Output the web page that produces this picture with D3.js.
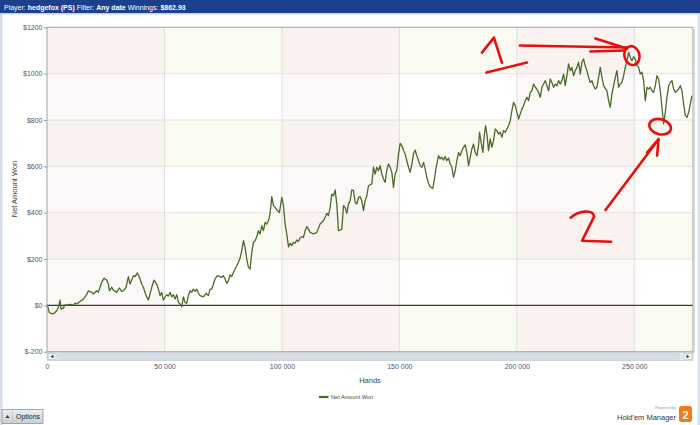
<!DOCTYPE html>
<html><head><meta charset="utf-8">
<script src="https://cdn.jsdelivr.net/npm/d3@7"></script>
<style>body{margin:0;background:#fff;} svg{display:block;font-family:"Liberation Sans",Arial,sans-serif;}</style>
</head><body><svg id="c" width="700" height="425"></svg>
<script>
// ---- data ----
const hands = [0,994,1988,2981,4117,4827,5537,5963,6957,7666,
8376,9796,11216,11925,12635,14055,15474,16894,17604,19024,
19734,21153,21863,22573,23283,24277,25413,26122,26548,27542,
28252,29672,30807,31801,32511,33647,34641,35351,36060,36770,
37480,38474,39326,40319,41029,42165,43159,43869,44578,45572,
46708,47418,48128,48837,49547,50257,50967,51677,52387,53097,
53807,54516,55226,55936,56646,57356,58066,58776,59485,60195,
60905,61615,62325,63035,63745,64454,65164,66584,67720,68713,
69423,70133,70843,71553,72547,73683,74392,75102,75812,76522,
77232,77942,78651,79361,80071,80781,81491,82201,82910,83620,
84330,85040,85750,86460,87170,87879,88589,89299,90009,90719,
91429,92138,92848,93558,94268,94978,95688,96398,97107,98101,
98953,99947,100657,101366,102076,102786,103496,104206,104916,105626,
106335,107045,107755,108465,109175,109885,110594,111304,112014,113434,
114853,116273,117693,118403,119113,119822,120532,121242,121952,122662,
123372,124081,124791,125501,126211,126921,127631,128340,129050,129760,
130470,131180,131890,132600,133309,134019,134729,135439,136149,136859,
138276,138986,139696,140406,141115,141825,142535,143245,143955,144665,
145374,146084,146794,147504,148214,148924,149634,150343,151053,151763,
152473,153183,153893,154603,155312,156022,156732,157442,158152,158862,
159571,160281,160991,161701,162411,163121,164256,164824,165676,166670,
167380,168090,168800,169510,170219,170929,171639,172349,173059,173769,
174478,175188,175898,176608,177318,178028,178737,179447,180157,180867,
181577,182287,182997,183706,184132,184700,185552,186120,186688,187256,
187966,188675,189385,190095,190805,191515,192225,192934,193644,194354,
195064,195774,196484,197194,197903,198613,199323,200033,200743,201453,
202162,202872,203582,204292,205002,205712,206422,207131,207841,208551,
209261,209971,210681,211391,212100,212810,213520,214230,214940,215650,
216359,217069,217779,218489,219199,219909,220619,221328,222038,222748,
223458,224168,224878,225588,226297,227007,227717,228427,229137,229847,
230556,231266,231976,232686,233396,234106,234815,235525,236235,236945,
238365,239075,239784,240494,241204,241914,242624,243334,244043,244753,
245463,246173,246883,247593,248303,249012,249722,250432,251142,251852,
252562,253271,253981,254691,255401,256111,256821,257530,258240,258950,
259660,260370,261080,261789,262499,263209,263919,264629,265339,266048,
266758,267468,268178,268888,269598,270307,271017,271727,272437,273147,
273857,274567];
const netWon = [5,-30,-37,-35,-23,-9,23,-16,-12,3,
1,4,1,9,6,17,27,46,63,56,
49,63,56,78,99,117,109,92,63,78,
66,56,75,60,63,78,124,92,109,128,
124,140,121,92,78,42,23,49,78,109,
92,70,42,56,23,35,46,40,56,37,
46,27,46,13,6,-6,37,13,9,42,
63,56,70,60,70,52,42,37,52,42,
70,70,92,114,128,124,121,128,114,95,
106,132,124,142,157,171,186,204,236,279,
250,200,164,157,229,272,279,296,322,308,
344,322,358,351,365,397,469,430,423,409,
401,466,430,351,308,253,268,258,272,268,
282,276,291,296,293,322,340,329,315,308,
315,351,365,380,397,387,423,480,473,498,
437,322,325,329,430,423,397,437,452,498,
495,445,437,466,469,452,409,452,473,516,
524,596,567,596,581,603,567,545,531,584,
610,596,574,509,567,584,653,699,689,668,
653,624,596,574,610,653,670,646,624,603,
596,617,588,552,527,512,505,538,596,646,
632,639,627,642,624,636,610,596,552,581,
624,660,646,668,682,693,660,603,639,675,
696,660,646,689,747,711,660,732,775,739,
668,718,682,711,761,754,739,747,725,754,
747,761,775,797,840,876,862,833,804,826,
847,862,883,898,883,919,926,955,941,934,
919,898,941,955,970,948,926,977,962,941,
955,948,970,955,970,998,948,991,1042,1013,
1027,991,1013,1027,1049,998,1049,1063,1034,1013,
984,962,970,948,934,941,984,1027,984,948,
926,883,855,912,948,984,1013,941,955,962,
991,1027,1056,1092,1070,1056,1073,1063,1034,1027,
998,1006,970,883,941,934,941,926,919,948,
991,977,926,855,783,833,898,948,962,970,
934,919,926,934,948,926,869,819,811,833,
869,905];
const yTicks = [-200,0,200,400,600,800,1000,1200];
const xTicks = [0,50000,100000,150000,200000,250000];
const xMax = 275000;
const seriesName = "Net Amount Won";
const headerParts = [["Player: ",false],["hedgefox (PS)",true],[" Filter: ",false],["Any date",true],[" Winnings: ",false],["$862.93",true]];
// annotation anchors (hands, $)
const mark1 = [249000, 1078];
const mark2 = [261000, 771];

// ---- drawing ----
const svg = d3.select("#c");
const L = 47, R = 693, T = 27.3, B = 351.7;
const x = d3.scaleLinear().domain([0, xMax]).range([L, R]);
const y = d3.scaleLinear().domain([-200, 1200]).range([B, T]);

// frame
svg.append("rect").attr("x",0).attr("y",0).attr("width",700).attr("height",425).attr("fill","#fff");
svg.append("rect").attr("x",0).attr("y",13).attr("width",2.5).attr("height",412).attr("fill","#d5dde8");
svg.append("rect").attr("x",697.5).attr("y",13).attr("width",2.5).attr("height",412).attr("fill","#dde3ea");
// header
svg.append("rect").attr("x",0).attr("y",0).attr("width",700).attr("height",13).attr("fill","#1d3f8e");
svg.append("rect").attr("x",0).attr("y",13).attr("width",700).attr("height",1.5).attr("fill","#c9d3e0");
const ht = svg.append("text").attr("x",4).attr("y",9.5).attr("fill","#fff").attr("font-size",7);
headerParts.forEach(([t,b]) => ht.append("tspan").attr("font-weight", b ? "bold" : "normal").text(t));

// background bands
const colEdges = xTicks.concat([xMax]);
const rowEdges = yTicks;
const g = svg.append("g");
for (let i = 0; i < colEdges.length - 1; i++) {
  for (let j = 0; j < rowEdges.length - 1; j++) {
    const top = rowEdges.length - 2 - j;
    const pink = i % 2 === 0;
    const light = top % 2 === 1;
    const fill = pink ? (light ? "#fcf8f7" : "#f9f2ef") : (light ? "#ffffff" : "#fafaf2");
    g.append("rect").attr("x", x(colEdges[i])).attr("y", y(rowEdges[j+1]))
      .attr("width", x(colEdges[i+1]) - x(colEdges[i])).attr("height", y(rowEdges[j]) - y(rowEdges[j+1]))
      .attr("fill", fill);
  }
}
// gridlines
g.selectAll(".hg").data(yTicks.filter(d => d !== 0 && d > -200 && d < 1200)).join("line")
  .attr("x1", L).attr("x2", R).attr("y1", d => y(d)).attr("y2", d => y(d))
  .attr("stroke", "#e7e3df").attr("stroke-width", 1);
g.selectAll(".vg").data(xTicks.filter(d => d > 0)).join("line")
  .attr("x1", d => x(d)).attr("x2", d => x(d)).attr("y1", T).attr("y2", B)
  .attr("stroke", "#e2dedb").attr("stroke-width", 1);
// zero line
g.append("line").attr("x1", L).attr("x2", R).attr("y1", y(0)).attr("y2", y(0)).attr("stroke", "#3a3a3a").attr("stroke-width", 1.3);

// series line
svg.append("clipPath").attr("id","pc").append("rect").attr("x",L).attr("y",T).attr("width",R-L).attr("height",B-T);
const idx = d3.range(Math.min(hands.length, netWon.length));
svg.append("path").attr("clip-path","url(#pc)")
  .attr("d", d3.line().x(i => x(hands[i])).y(i => y(netWon[i]))(idx))
  .attr("fill","none").attr("stroke","#4a6a28").attr("stroke-width",1.3).attr("stroke-linejoin","round");

// plot border
svg.append("rect").attr("x",L).attr("y",T).attr("width",R-L).attr("height",B-T)
  .attr("fill","none").attr("stroke","#a3a3a3").attr("stroke-width",1);
svg.append("line").attr("x1",R+1).attr("x2",R+1).attr("y1",T+1).attr("y2",B+1).attr("stroke","#cfcfcf").attr("stroke-width",1.5);

// y axis
const ya = svg.append("g").attr("transform",`translate(${L},0)`)
  .call(d3.axisLeft(y).tickValues(yTicks).tickSize(3).tickPadding(1.5).tickFormat(d => "$" + d));
ya.select(".domain").remove();
ya.selectAll("line").attr("stroke","#9a9a9a");
ya.selectAll("text").attr("font-size",7).attr("fill","#4d566a").attr("font-family","Liberation Sans, Arial, sans-serif");
svg.append("text").attr("transform","translate(17,189) rotate(-90)").attr("text-anchor","middle")
  .attr("font-size",7.5).attr("fill","#444").text(seriesName);

// scrollbar
const sb = svg.append("g");
sb.append("rect").attr("x",L).attr("y",352.5).attr("width",R-L).attr("height",8).attr("fill","#e6eaee").attr("stroke","#b4bdc7").attr("stroke-width",0.6);
sb.append("rect").attr("x",L+1).attr("y",353.5).attr("width",8).attr("height",6).attr("fill","#f4f6f8").attr("stroke","#aab3bd").attr("stroke-width",0.5);
sb.append("path").attr("d",`M${L+3.5},356.5 L${L+6.5},354.8 L${L+6.5},358.2 Z`).attr("fill","#333");
sb.append("rect").attr("x",L+11).attr("y",353.8).attr("width",R-L-24).attr("height",5.4).attr("rx",1).attr("fill","#d9dfe6").attr("stroke","#c2cad3").attr("stroke-width",0.5);
sb.append("rect").attr("x",R-9).attr("y",353.5).attr("width",8).attr("height",6).attr("fill","#f4f6f8").attr("stroke","#aab3bd").attr("stroke-width",0.5);
sb.append("path").attr("d",`M${R-3.5},356.5 L${R-6.5},354.8 L${R-6.5},358.2 Z`).attr("fill","#333");

// x axis
const loc = d3.formatLocale({decimal:".", thousands:" ", grouping:[3], currency:["$",""]});
const xa = svg.append("g").attr("transform",`translate(0,361)`)
  .call(d3.axisBottom(x).tickValues(xTicks).tickSize(0).tickPadding(3).tickFormat(loc.format(",")));
xa.select(".domain").remove();
xa.selectAll("text").attr("font-size",7).attr("fill","#4d566a").attr("font-family","Liberation Sans, Arial, sans-serif");
svg.append("text").attr("x",(L+R)/2).attr("y",382.5).attr("text-anchor","middle").attr("font-size",7.5).attr("fill","#444").text("Hands");

// legend
svg.append("line").attr("x1",319).attr("x2",328.5).attr("y1",397).attr("y2",397).attr("stroke","#4a6a28").attr("stroke-width",2.2);
svg.append("text").attr("x",331).attr("y",399).attr("font-size",5.6).attr("fill","#444").text(seriesName);

// options button
const gr = svg.append("defs").append("linearGradient").attr("id","bg").attr("x1",0).attr("x2",0).attr("y1",0).attr("y2",1);
gr.append("stop").attr("offset",0).attr("stop-color","#eef0f2");
gr.append("stop").attr("offset",1).attr("stop-color","#c9ced4");
svg.append("rect").attr("x",2).attr("y",409.5).attr("width",41).attr("height",14).attr("fill","url(#bg)").attr("stroke","#8e959c").attr("stroke-width",0.8);
svg.append("path").attr("d","M5.5,418 L7.5,415 L9.5,418 Z").attr("fill","#333");
svg.append("text").attr("x",16).attr("y",419).attr("font-size",7).attr("fill","#222").text("Options");
svg.append("line").attr("x1",12.5).attr("x2",12.5).attr("y1",411).attr("y2",422).attr("stroke","#b4b9bf").attr("stroke-width",0.6);

// powered by
svg.append("text").attr("x",676).attr("y",409).attr("text-anchor","end").attr("font-size",4).attr("fill","#999").text("Powered by");
svg.append("text").attr("x",676).attr("y",419.5).attr("text-anchor","end").attr("font-size",7.5).attr("fill","#333").text("Hold'em Manager");
svg.append("rect").attr("x",679).attr("y",406).attr("width",13).attr("height",16).attr("rx",2.5).attr("fill","#f07a1c");
svg.append("text").attr("x",685.5).attr("y",418.5).attr("text-anchor","middle").attr("font-size",11).attr("font-weight","bold").attr("fill","#fff").text("2");

// red hand-drawn annotations
const red = "#e5100e";
const a = svg.append("g").attr("fill","none").attr("stroke",red).attr("stroke-width",2.6).attr("stroke-linecap","round").attr("stroke-linejoin","round");
const [p1x,p1y] = [x(mark1[0]), y(mark1[1])];
const [p2x,p2y] = [x(mark2[0]), y(mark2[1])];
const off = (px,py,pts) => pts.map(([dx,dy]) => [px+dx, py+dy]);
const ln = d3.line();
a.append("path").attr("d", ln(off(p1x,p1y,[[-150,-3],[-138,-18],[-130,7]])));
a.append("path").attr("d", ln(off(p1x,p1y,[[-145.5,17],[-105,7]])));
a.append("path").attr("d", ln(off(p1x,p1y,[[-112,-10],[-5,-8]])));
a.append("path").attr("d", ln(off(p1x,p1y,[[-41.5,-4],[-8,-5]])));
a.append("path").attr("d", ln(off(p1x,p1y,[[-36.5,-17],[-5,-7]])));
a.append("ellipse").attr("cx",p1x).attr("cy",p1y).attr("rx",7.5).attr("ry",9.5).attr("transform",`rotate(-15,${p1x},${p1y})`);
a.append("ellipse").attr("cx",p2x).attr("cy",p2y).attr("rx",11).attr("ry",7.5).attr("transform",`rotate(15,${p2x},${p2y})`);
a.append("path").attr("d", ln(off(p2x,p2y,[[-54.6,83.3],[-1.5,12.5]])));
a.append("path").attr("d", ln(off(p2x,p2y,[[-13,26],[-1.5,12.5],[-3,29]])));
a.append("path").attr("d", `M${p2x-89.5},${p2y+91} C${p2x-82},${p2y+84} ${p2x-67},${p2y+82} ${p2x-66},${p2y+90} L${p2x-78},${p2y+114} L${p2x-49},${p2y+115}`);
</script></body></html>
